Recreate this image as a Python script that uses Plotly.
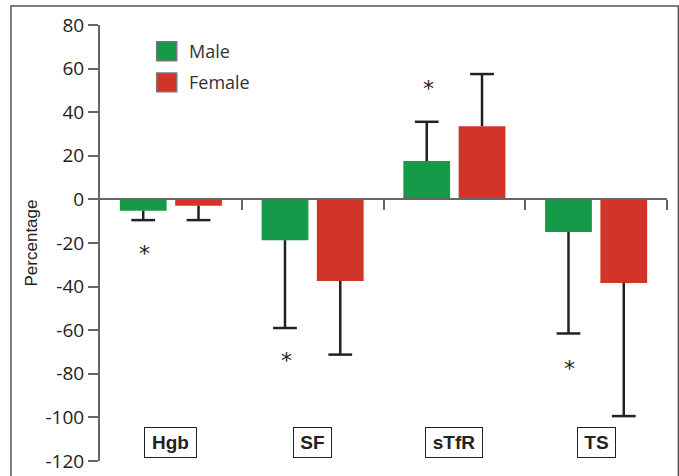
import plotly.graph_objects as go

# Percentage change by marker and sex
categories = ["Hgb", "SF", "sTfR", "TS"]
male_values = [-5.2, -18.7, 17.6, -14.9]
male_sd = [4.3, 40.3, 18.0, 46.6]
female_values = [-2.9, -37.4, 33.6, -38.3]
female_sd = [6.6, 33.8, 23.9, 61.1]

# Significance markers (male bars), y-position in data units
star_y = [-24.4, -73.5, 51.5, -77.0]

y_ticks = list(range(-120, 81, 20))
y_ticktext = [str(v) for v in y_ticks]  # plain hyphen minus

GREEN = "#17994a"
RED = "#d1352a"
AXIS = "#666666"
INK = "#222222"
FONT = "Open Sans"

BAR_W = 0.33
OFFSETS = {"Male": -0.36, "Female": 0.03}

xs = list(range(len(categories)))

fig = go.Figure()
for name, vals, sd, col in [("Male", male_values, male_sd, GREEN),
                            ("Female", female_values, female_sd, RED)]:
    off = OFFSETS[name]
    fig.add_trace(go.Bar(
        x=xs, y=vals, name=name, width=BAR_W, offset=off,
        marker=dict(color=col, line=dict(width=0)),
        showlegend=False,
    ))
    # one-sided error bars: stem from bar end outwards, cap only at the far end
    cx = [x + off + BAR_W / 2 for x in xs]
    tips = [v + s if v > 0 else v - s for v, s in zip(vals, sd)]
    stem_x, stem_y = [], []
    for x, v, t in zip(cx, vals, tips):
        stem_x += [x, x, None]
        stem_y += [v, t, None]
    fig.add_trace(go.Scatter(
        x=stem_x, y=stem_y, mode="lines",
        line=dict(color=INK, width=2.5), showlegend=False, hoverinfo="skip",
    ))
    fig.add_trace(go.Scatter(
        x=cx, y=tips, mode="markers",
        marker=dict(symbol="line-ew", size=17,
                    line=dict(color=INK, width=2.5)),
        showlegend=False, hoverinfo="skip",
    ))

annotations = []
# asterisks over the male bars
for x, y in zip(xs, star_y):
    annotations.append(dict(x=x + OFFSETS["Male"] + BAR_W / 2 + 0.01, y=y,
                            xref="x", yref="y", text="*", showarrow=False,
                            font=dict(family="DejaVu Sans", size=22, color=INK),
                            yshift=-1))

# boxed category labels along the bottom
label_widths = [43, 29, 48, 29]
for x, c, w in zip(xs, categories, label_widths):
    annotations.append(dict(x=x, y=-111.4, xref="x", yref="y",
                            text="<b>%s</b>" % c, showarrow=False,
                            width=w, height=21,
                            font=dict(family="Liberation Sans", size=19, color=INK),
                            bordercolor=INK, borderwidth=1, borderpad=4,
                            bgcolor="white"))

# legend: swatches + labels
shapes = []
legend_items = [("Male", GREEN, 72.3, 63.6), ("Female", RED, 58.0, 49.4)]
for name, col, y1, y0 in legend_items:
    shapes.append(dict(type="rect", xref="paper", yref="y",
                       x0=0.100, x1=0.1353, y0=y0, y1=y1,
                       fillcolor=col, line=dict(color="#777777", width=1.5)))
    annotations.append(dict(x=0.1529, y=(y0 + y1) / 2, xref="paper", yref="y",
                            text=name, showarrow=False, xanchor="left",
                            font=dict(family=FONT, size=18, color="#333333")))

# outer frame
shapes.append(dict(type="rect", xref="paper", yref="paper",
                   x0=-0.157, x1=1.02, y0=-0.2, y1=1.0436,
                   line=dict(color="#555555", width=1.5), layer="below"))

fig.update_layout(
    width=679, height=476,
    margin=dict(l=100, r=12, t=25, b=15, autoexpand=False),
    paper_bgcolor="white", plot_bgcolor="white",
    barmode="overlay",
    font=dict(family=FONT, color=INK),
    annotations=annotations, shapes=shapes,
    xaxis=dict(range=[-0.5, 3.5], anchor="free", position=0.6,
               showline=True, linecolor=AXIS, linewidth=2,
               ticks="outside", tickvals=[x + 0.5 for x in xs], ticklen=10,
               tickwidth=2, tickcolor=AXIS, showticklabels=False,
               showgrid=False, zeroline=False, automargin=False),
    yaxis=dict(range=[-120, 80], tickvals=y_ticks, ticktext=y_ticktext,
               showline=True, linecolor=AXIS, linewidth=2,
               ticks="outside", ticklen=10, tickwidth=2, tickcolor=AXIS,
               tickfont=dict(family=FONT, size=19, color=INK),
               showgrid=False, zeroline=False, automargin=False,
               title=dict(text="Percentage", standoff=4,
                          font=dict(family="Liberation Sans", size=17, color=INK))),
)

fig.write_html("out.html")
